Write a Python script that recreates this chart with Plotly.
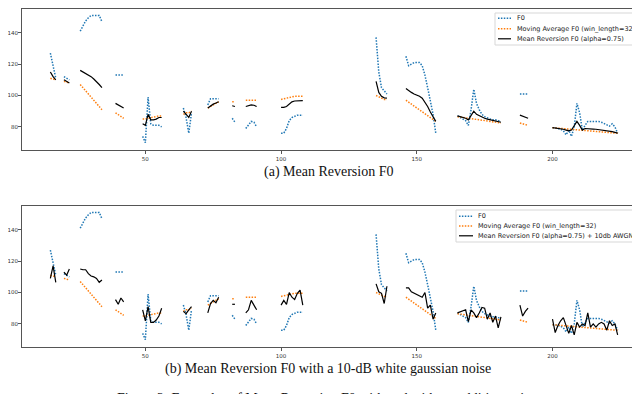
import plotly.graph_objects as go

# first frame of each voiced segment
seg_start = [15, 20, 26, 39, 49, 64, 73, 82, 87, 100, 135, 146, 165, 188, 200]

f0 = [
    [127, 118, 111],
    [112, 111, 110],
    [141, 144, 147.5, 149.5, 151, 151, 151, 151, 147],
    [113, 113, 113, 113],
    [74, 70, 99, 82, 81, 81, 81, 80],
    [92, 86, 76, 89],
    [94, 98, 98, 98, 98],
    [85.5, 83],
    [79, 81, 83.5, 83, 80],
    [76, 76, 79, 84, 86, 87, 87.5, 87.5, 87.5],
    [137, 115, 105, 103, 101],
    [125, 119, 120, 121, 121, 121, 119, 113, 105, 97, 88, 76],
    [87, 86, 85.5, 84, 81, 91, 104, 95, 91, 88, 86.5, 85.5, 85, 84.5, 84.5, 84, 83.5],
    [101, 101, 101, 101],
    [79.5, 79.5, 79, 78.5, 77.5, 75, 78, 74, 80, 95, 89, 78, 81, 83.5, 83.5, 83.5,
     83.5, 83.5, 83, 82, 81, 80.5, 82, 80, 76],
]

moving_avg = [
    [111, 110.5, 110],
    [109, 108.5, 108],
    [107, 105, 103, 101, 99, 97, 95, 93, 91],
    [89, 88, 86.5, 85.5],
    [85, 85, 85.5, 86, 86, 86.5, 87, 87],
    [88, 89, 89, 90],
    [92, 93, 94, 95, 96],
    [96, 96],
    [97, 97, 97, 97, 97],
    [97.5, 98, 98.5, 99, 99.3, 99.5, 99.5, 99.5, 99.5],
    [100, 99, 98, 97.5, 97.5],
    [97, 95.8, 94.6, 93.3, 92.1, 90.9, 89.6, 88.4, 87.1, 85.9, 84.7, 83.5],
    [86.5, 86.3, 86, 85.8, 85.5, 85.3, 85, 84.8, 84.5, 84.3, 84, 83.8, 83.5, 83.3,
     83, 82.8, 82.5],
    [82.5, 82, 81.5, 81],
    [79.5, 79.4, 79.2, 79.1, 78.9, 78.8, 78.6, 78.5, 78.3, 78.2, 78.0, 77.9, 77.7,
     77.6, 77.4, 77.3, 77.1, 77.0, 76.8, 76.7, 76.5, 76.4, 76.2, 76.1, 76.0],
]

mean_rev = [
    [115, 112, 110],
    [110, 109, 108],
    [116, 115, 114.5, 113.5, 112, 110.5, 109, 107, 105],
    [95, 94, 93, 92],
    [82, 81, 88, 84.5, 84.5, 85, 86, 86],
    [90, 88, 86, 90],
    [92, 93.5, 94.5, 95.2, 96],
    [93.5, 93],
    [93, 93.5, 94, 93.8, 93],
    [92.5, 92.5, 93, 94.5, 96, 96.5, 96.6, 96.7, 96.7],
    [109, 102, 99.5, 98.5, 98.3],
    [104.5, 103, 102, 101, 100.3, 99.5, 98.3, 96, 93, 89.5, 86, 83.5],
    [87, 86.5, 86, 85.5, 84.5, 87, 90, 88, 87, 86, 85.5, 85, 84.5, 84, 83.8, 83.5, 83],
    [87.5, 86.8, 86.2, 85.5],
    [79.5, 79.3, 79, 78.8, 78.5, 78, 77.5, 78, 81, 83.5, 81, 78, 79, 79, 78.8, 78.6,
     78.5, 78.3, 78.1, 78, 77.7, 77.4, 77, 76.5, 76],
]

mean_rev_awgn = [
    [109, 117, 106.5],
    [113, 111, 115],
    [115, 114.5, 114.5, 112, 110.5, 110, 109, 106.5, 108],
    [95.5, 92.5, 96.5, 94],
    [89, 82, 91, 81, 81, 82.5, 85, 90],
    [88, 86.5, 89, 91],
    [87, 93, 95, 93.5, 97],
    [92.5, 92.5],
    [87, 89, 95, 92, 89],
    [92, 95, 92.5, 100, 97, 95.5, 99.5, 101.5, 92],
    [105.5, 100.5, 99.5, 93, 104],
    [103, 103, 100.5, 99.5, 99, 98, 97, 100, 90, 92, 83, 87],
    [87, 87.5, 88.5, 89, 81.5, 89, 87, 84, 87, 90.5, 90, 83, 87, 81, 85, 77.5, 84.5],
    [92, 85, 88, 90],
    [83, 74.5, 79, 82, 84, 79, 74, 79, 73, 81, 78, 80, 79, 87, 78, 80, 78, 80, 81,
     80, 76, 82, 79, 80, 73],
]

x_ticks = [50, 100, 150, 200]
y_ticks = [80, 100, 120, 140]


def flatten(segs):
    # join segments, None breaks the line between them
    xs, ys = [], []
    for s, vals in zip(seg_start, segs):
        xs += list(range(s, s + len(vals))) + [None]
        ys += list(vals) + [None]
    return xs, ys


BLUE = '#1f77b4'
ORANGE = '#ff7f0e'
DOTS = '1.5px,1.4px'
W, H = 640, 394

fig = go.Figure()

panels = [
    ('x', 'y', 'Mean Reversion F0 (alpha=0.75)', mean_rev),
    ('x2', 'y2', 'Mean Reversion F0 (alpha=0.75) + 10db AWGN', mean_rev_awgn),
]
for xa, ya, mr_name, mr in panels:
    xs, ys = flatten(f0)
    fig.add_trace(go.Scatter(x=xs, y=ys, mode='lines', name='F0',
                             line=dict(color=BLUE, dash=DOTS, width=1.5),
                             xaxis=xa, yaxis=ya, showlegend=False))
    xs, ys = flatten(moving_avg)
    fig.add_trace(go.Scatter(x=xs, y=ys, mode='lines',
                             name='Moving Average F0 (win_length=32)',
                             line=dict(color=ORANGE, dash=DOTS, width=1.5),
                             xaxis=xa, yaxis=ya, showlegend=False))
    xs, ys = flatten(mr)
    fig.add_trace(go.Scatter(x=xs, y=ys, mode='lines', name=mr_name,
                             line=dict(color='black', width=1.2),
                             xaxis=xa, yaxis=ya, showlegend=False))

tick_font = dict(family='DejaVu Sans', size=5.5, color='#333')
axis_common = dict(showline=True, mirror=True, linecolor='#555', linewidth=1,
                   showgrid=False, zeroline=False, ticks='outside', ticklen=3,
                   tickcolor='#555', tickfont=tick_font, automargin=False)

x_dom = [14 / W, 638 / W]
fig.update_layout(
    xaxis=dict(domain=x_dom, range=[4.55, 234.45], tickvals=x_ticks, anchor='y',
               **axis_common),
    yaxis=dict(domain=[1 - 142 / H, 1 - 1 / H], range=[65.3, 155.1],
               tickvals=y_ticks, anchor='x', ticklabelstandoff=-1, **axis_common),
    xaxis2=dict(domain=x_dom, range=[4.55, 234.45], tickvals=x_ticks, anchor='y2',
                **axis_common),
    yaxis2=dict(domain=[1 - 339 / H, 1 - 198 / H], range=[65.3, 155.1],
                tickvals=y_ticks, anchor='x2', ticklabelstandoff=-1, **axis_common),
)

# hand-made legends (pixel positions), matplotlib style compact boxes
legend_font = dict(family='DejaVu Sans', size=6.5, color='#222')
legends = [
    # box left, top, right, bottom, sample x0, x1, text x, entry ys, labels
    (487, 5, 636, 37, 490, 503, 508, [10.3, 20.7, 30.8],
     ['F0', 'Moving Average F0 (win_length=32)', 'Mean Reversion F0 (alpha=0.75)']),
    (448, 202, 636, 234, 451, 465, 469, [208.3, 217.9, 227.8],
     ['F0', 'Moving Average F0 (win_length=32)',
      'Mean Reversion F0 (alpha=0.75) + 10db AWGN']),
]
styles = [dict(color=BLUE, dash=DOTS, width=1.5),
          dict(color=ORANGE, dash=DOTS, width=1.5),
          dict(color='black', width=1.2)]
for bx0, by0, bx1, by1, lx0, lx1, tx, ys, labels in legends:
    fig.add_shape(type='rect', xref='paper', yref='paper',
                  x0=bx0 / W, x1=bx1 / W, y0=1 - by0 / H, y1=1 - by1 / H,
                  line=dict(color='#d5d5d5', width=1), fillcolor='white',
                  opacity=0.95, layer='above')
    for yy, lab, st in zip(ys, labels, styles):
        fig.add_shape(type='line', xref='paper', yref='paper',
                      x0=lx0 / W, x1=lx1 / W, y0=1 - yy / H, y1=1 - yy / H,
                      line=st, layer='above')
        fig.add_annotation(text=lab, x=tx / W, y=1 - yy / H, xref='paper',
                           yref='paper', xanchor='left', yanchor='middle',
                           showarrow=False, font=legend_font, borderpad=0)

cap_font = dict(family='Liberation Serif', size=14, color='#111')
captions = [
    ('(a) Mean Reversion F0', 1 - 164 / H),
    ('(b) Mean Reversion F0 with a 10-dB white gaussian noise', 1 - 361 / H),
]
for text, ypos in captions:
    fig.add_annotation(text=text, x=0.5, y=ypos, xref='paper', yref='paper',
                       xanchor='center', yanchor='middle', showarrow=False,
                       font=cap_font)
fig.add_annotation(text='Figure 2: Examples of Mean Reversion F0 with and without additive noise',
                   x=0.497, y=1 - 381 / H, xref='paper', yref='paper',
                   xanchor='center', yanchor='top', showarrow=False, font=cap_font)

fig.update_layout(width=W, height=H, margin=dict(l=0, r=0, t=0, b=0),
                  plot_bgcolor='white', paper_bgcolor='white', template='none')

fig.write_html("out.html")
